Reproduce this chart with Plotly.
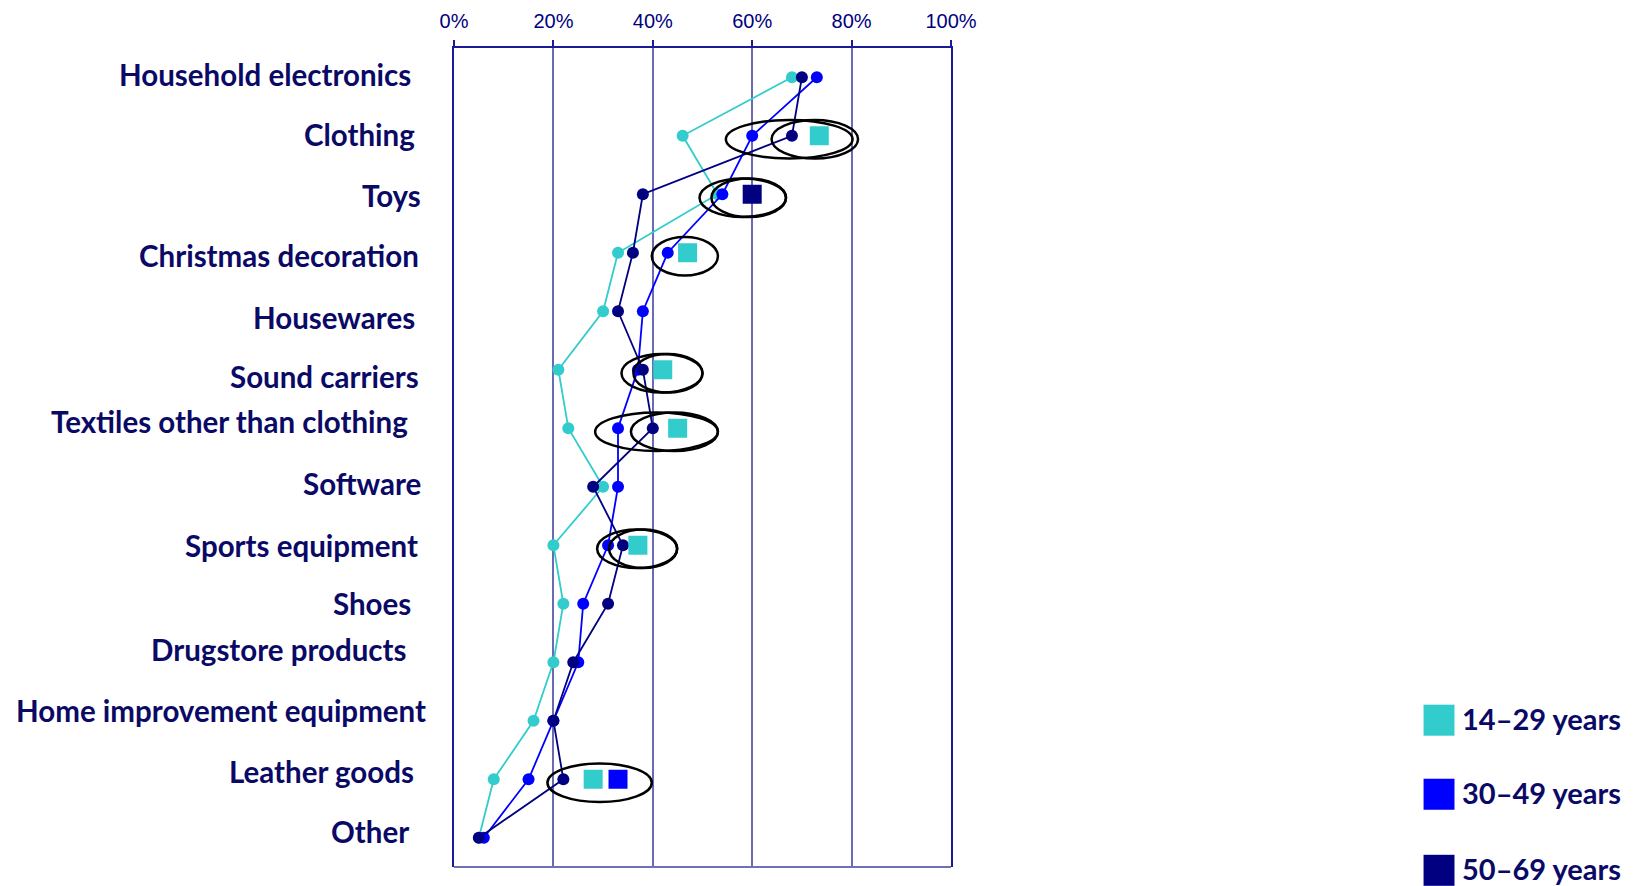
import plotly.graph_objects as go

# ---- data -------------------------------------------------------------
categories = [
    "Household electronics", "Clothing", "Toys", "Christmas decoration",
    "Housewares", "Sound carriers", "Textiles other than clothing",
    "Software", "Sports equipment", "Shoes", "Drugstore products",
    "Home improvement equipment", "Leather goods", "Other",
]
age_groups = ["14–29 years", "30–49 years", "50–69 years"]
share_14_29 = [68, 46, 53, 33, 30, 21, 23, 30, 20, 22, 20, 16, 8, 5]
share_30_49 = [73, 60, 54, 43, 38, 37, 33, 33, 31, 26, 25, 20, 15, 6]
share_50_69 = [70, 68, 38, 36, 33, 38, 40, 28, 34, 31, 24, 20, 22, 5]

# highlighted age group per category (square marker next to the ring)
highlight_cats = ["Clothing", "Toys", "Christmas decoration", "Sound carriers",
                  "Textiles other than clothing", "Sports equipment",
                  "Leather goods", "Leather goods"]
highlight_groups = [0, 2, 0, 0, 0, 0, 0, 1]
highlight_x = [73.5, 60, 47, 42, 45, 37, 28, 33]

# rings drawn around the highlighted values: category, left %, right %
ring_cats = ["Clothing", "Clothing", "Toys", "Toys", "Christmas decoration",
             "Sound carriers", "Sound carriers",
             "Textiles other than clothing", "Textiles other than clothing",
             "Sports equipment", "Sports equipment", "Leather goods"]
ring_x0 = [54.7, 63.9, 49.4, 51.8, 39.8, 33.7, 36.1, 28.4, 35.6, 28.8, 31.2, 18.8]
ring_x1 = [80.2, 81.3, 66.8, 66.8, 53.1, 50.0, 50.0, 53.1, 53.1, 44.9, 44.9, 39.8]

x_ticks = [0, 20, 40, 60, 80, 100]

# ---- styling ----------------------------------------------------------
colors = ["#33CCCC", "#0000FF", "#000080"]
text_color = "#0A0A66"
label_font = "Lato"
label_size = 29.5

W, H = 1642, 886
L, R, T, B = 453.5, 690.5, 48.3, 19.3
PW, PH = W - L - R, H - T - B

# per-label nudges (right edge in px, vertical shift in px)
label_right = [412, 416, 422, 420, 416, 420, 409, 422, 419, 412, 408, 427, 415, 410]
label_dy = [3, 1, -1, -3, -6, -7, 7, 3, 0, 0, 13, 10, 8, 6]


def px_x(px):
    return (px - L) / PW


def px_y(py):
    return (H - B - py) / PH


fig = go.Figure()

series = [share_14_29, share_30_49, share_50_69]
for name, vals, col in zip(age_groups, series, colors):
    fig.add_trace(go.Scatter(
        x=vals, y=categories, name=name, mode="lines+markers",
        line=dict(color=col, width=1.8),
        marker=dict(color=col, size=12),
        showlegend=False, hoverinfo="x+y+name",
    ))

fig.add_trace(go.Scatter(
    x=highlight_x, y=highlight_cats, mode="markers",
    marker=dict(symbol="square", size=19,
                color=[colors[g] for g in highlight_groups], line=dict(width=0)),
    showlegend=False, hoverinfo="skip",
))

shapes = []
idx = {c: i for i, c in enumerate(categories)}
for c, x0, x1 in zip(ring_cats, ring_x0, ring_x1):
    yc = idx[c] + 0.06
    shapes.append(dict(type="circle", xref="x", yref="y", x0=x0, x1=x1,
                       y0=yc - 0.33, y1=yc + 0.33,
                       line=dict(color="black", width=2.5), layer="above"))

# lighter bottom border
shapes.append(dict(type="line", xref="paper", yref="paper", x0=0, x1=1, y0=0, y1=0,
                   line=dict(color="#7070B8", width=2)))

annotations = []
for i, c in enumerate(categories):
    annotations.append(dict(
        x=0, xref="paper", y=c, yref="y", text=c, showarrow=False,
        xanchor="right", yanchor="middle", xshift=label_right[i] - L,
        yshift=label_dy[i],
        font=dict(family=label_font, size=label_size, color=text_color, weight="bold"),
    ))

# legend drawn as squares with labels
legend_y = [720, 794, 870]
for name, col, ly in zip(age_groups, colors, legend_y):
    shapes.append(dict(type="rect", xref="paper", yref="paper",
                       x0=px_x(1425), x1=px_x(1456),
                       y0=px_y(ly + 15.5), y1=px_y(ly - 15.5),
                       fillcolor=col, line=dict(width=0)))
    annotations.append(dict(
        x=px_x(1462), xref="paper", y=px_y(ly - 2), yref="paper", text=name,
        showarrow=False, xanchor="left", yanchor="middle",
        font=dict(family=label_font, size=29, color=text_color, weight="bold"),
    ))

fig.update_layout(
    width=W, height=H,
    margin=dict(l=L, r=R, t=T, b=B, pad=0),
    paper_bgcolor="white", plot_bgcolor="white",
    showlegend=False,
    shapes=shapes, annotations=annotations,
    xaxis=dict(
        side="top", range=[0, 100], tickvals=x_ticks,
        ticktext=[f"{v}%" for v in x_ticks],
        showgrid=True, gridcolor="#6A6AB5", gridwidth=1.5,
        showline=True, linecolor="#1A1A99", linewidth=2,
        ticks="outside", ticklen=6, tickcolor="#1A1A99", tickwidth=1.5,
        ticklabelstandoff=4, automargin=False,
        tickfont=dict(family="Liberation Sans", size=20, color="#000080"),
        zeroline=False, fixedrange=True,
    ),
    yaxis=dict(
        type="category", categoryorder="array", categoryarray=categories,
        range=[13.5, -0.5], showticklabels=False, showgrid=False,
        showline=True, linecolor="#1A1A99", linewidth=2, mirror=True,
        zeroline=False, fixedrange=True, automargin=False,
    ),
)

fig.write_html("out.html")
